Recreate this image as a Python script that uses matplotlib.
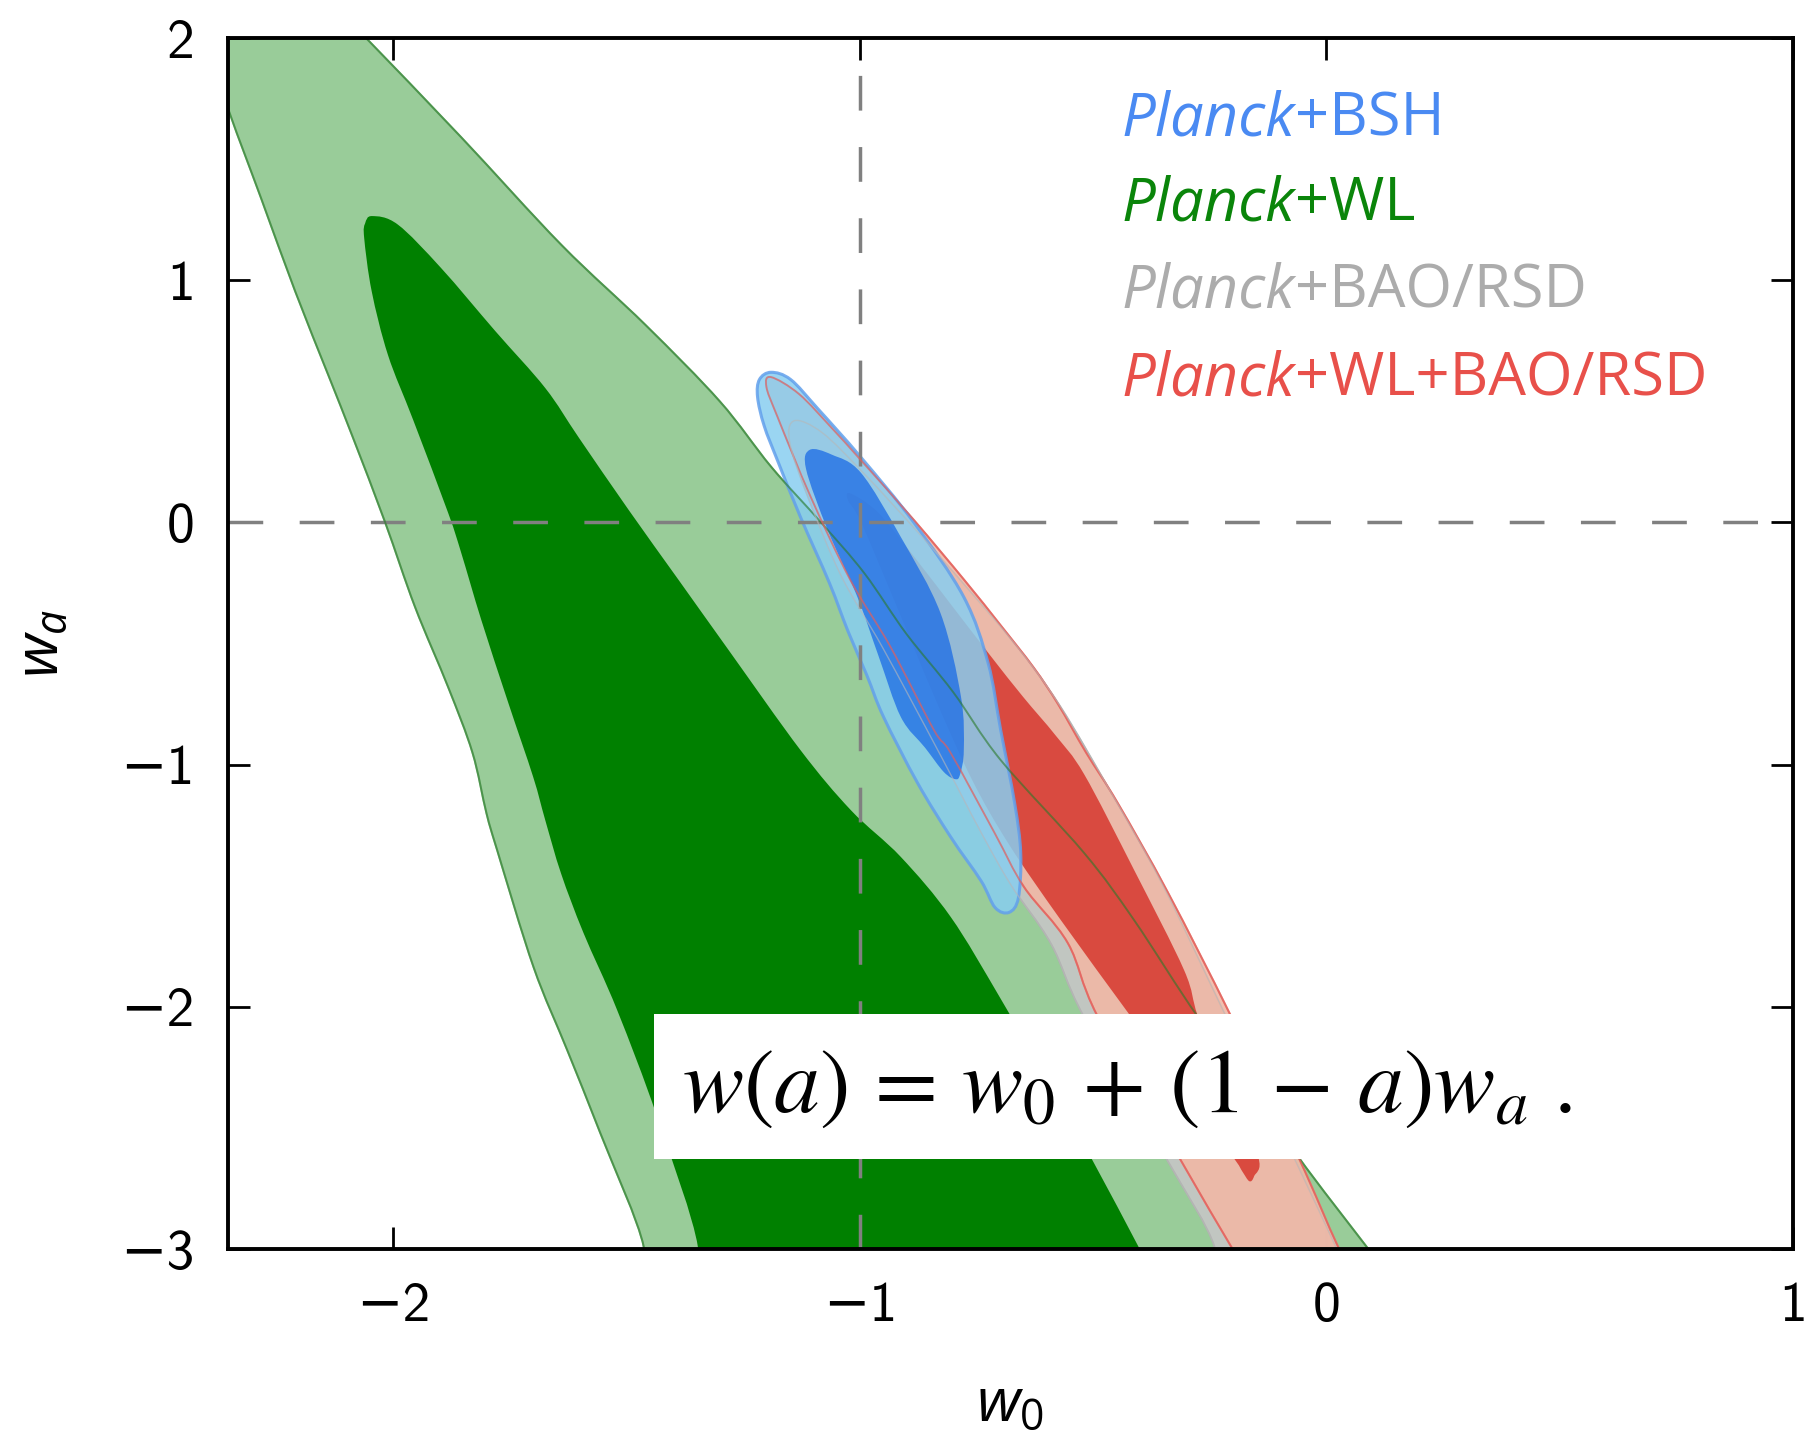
import matplotlib
matplotlib.use("Agg")
import matplotlib.pyplot as plt
from matplotlib.path import Path
from matplotlib.patches import PathPatch
import numpy as np

plt.rcParams['mathtext.fontset'] = 'custom'
plt.rcParams['mathtext.rm'] = 'Open Sans'
plt.rcParams['mathtext.it'] = 'Open Sans:italic'

# Planck+WL, 2 sigma (outer) and 1 sigma (inner) contours in (w0, wa)
wl_2s_w0 = [-2.16, -2.058, -1.854, -1.639, -1.459, -1.30, -1.19, -1.083, -0.99, -0.90,
            -0.80, -0.698, -0.519, -0.412, -0.275, -0.15, -0.06, 0.09, 0.15,
            -1.49, -1.463, -1.556, -1.627, -1.699, -1.777, -1.80, -1.83, -1.882, -1.953,
            -2.017, -2.086, -2.139, -2.210, -2.283, -2.354, -2.44]
wl_2s_wa = [2.2, 2.0, 1.59, 1.145, 0.815, 0.50, 0.23, 0.0, -0.21, -0.46,
            -0.70, -0.981, -1.365, -1.642, -2.042, -2.35, -2.62, -3.0, -3.15,
            -3.15, -2.99, -2.521, -2.178, -1.836, -1.353, -1.20, -0.95, -0.68, -0.349,
            0.0, 0.35, 0.609, 0.955, 1.339, 1.71, 2.2]

wl_1s_w0 = [-2.045, -1.99, -1.897, -1.781, -1.674, -1.602, -1.495, -1.388, -1.281, -1.127,
            -1.019, -0.912, -0.805, -0.70, -0.59, -0.505, -0.40, -0.36,
            -1.38, -1.347, -1.434, -1.520, -1.592, -1.64, -1.674, -1.70, -1.753, -1.811,
            -1.854, -1.882, -1.957, -2.011, -2.046, -2.062, -2.06]
wl_1s_wa = [1.265, 1.23, 1.05, 0.79, 0.555, 0.35, 0.051, -0.238, -0.527, -0.94,
            -1.188, -1.381, -1.629, -1.96, -2.33, -2.62, -3.0, -3.15,
            -3.15, -2.99, -2.455, -2.013, -1.695, -1.45, -1.229, -1.05, -0.746, -0.403,
            -0.126, 0.039, 0.423, 0.691, 0.955, 1.174, 1.235]

# Planck+BAO/RSD
bao_2s_w0 = [-1.14, -1.08, -0.99, -0.88, -0.77, -0.66, -0.57, -0.46, -0.35, -0.22,
             -0.07, 0.02, 0.06, -0.26, -0.24, -0.345, -0.52, -0.59, -0.675, -0.74,
             -0.83, -0.95, -1.04, -1.11, -1.15]
bao_2s_wa = [0.42, 0.37, 0.20, -0.03, -0.27, -0.52, -0.76, -1.12, -1.50, -2.02,
             -2.62, -2.99, -3.15, -3.15, -2.99, -2.62, -2.04, -1.74, -1.50, -1.28,
             -0.95, -0.52, -0.22, 0.10, 0.33]

# Planck+WL+BAO/RSD
comb_2s_w0 = [-1.19, -1.13, -1.06, -0.998, -0.884, -0.775, -0.70, -0.627, -0.575, -0.515,
              -0.447, -0.339, -0.204, -0.06, 0.025, 0.07, -0.15, -0.204, -0.316, -0.49,
              -0.554, -0.648, -0.711, -0.805, -0.841, -0.934, -1.02, -1.105, -1.176, -1.20]
comb_2s_wa = [0.60, 0.53, 0.39, 0.258, 0.01, -0.24, -0.42, -0.60, -0.75, -0.95,
              -1.159, -1.53, -2.04, -2.62, -2.99, -3.15, -3.15, -2.99, -2.62, -2.04,
              -1.737, -1.505, -1.282, -0.952, -0.857, -0.514, -0.238, 0.105, 0.435, 0.56]

comb_1s_w0 = [-1.02, -0.96, -0.88, -0.80, -0.72, -0.65, -0.58, -0.519, -0.412, -0.305,
              -0.275, -0.21, -0.146, -0.155, -0.165, -0.18, -0.20, -0.31, -0.419, -0.569,
              -0.68, -0.76, -0.84, -0.92, -0.997, -1.025]
comb_1s_wa = [0.12, 0.04, -0.15, -0.35, -0.55, -0.72, -0.88, -1.04, -1.435, -1.848,
              -2.04, -2.35, -2.62, -2.70, -2.72, -2.68, -2.62, -2.33, -2.04, -1.642,
              -1.33, -1.06, -0.72, -0.35, 0.0, 0.09]

# Planck+BSH
bsh_2s_w0 = [-1.19, -1.148, -1.09, -0.998, -0.884, -0.777, -0.725, -0.698, -0.668, -0.655,
             -0.660, -0.680, -0.71, -0.74, -0.805, -0.876, -0.949, -0.985, -1.025, -1.065,
             -1.127, -1.175, -1.205, -1.219, -1.215]
bsh_2s_wa = [0.62, 0.59, 0.47, 0.27, 0.0, -0.308, -0.58, -0.857, -1.159, -1.365,
             -1.55, -1.610, -1.59, -1.48, -1.299, -1.076, -0.803, -0.63, -0.45, -0.25,
             0.022, 0.25, 0.40, 0.518, 0.59]

bsh_1s_w0 = [-1.107, -1.06, -0.997, -0.912, -0.827, -0.783, -0.777, -0.785, -0.795, -0.82,
             -0.86, -0.912, -0.96, -1.005, -1.069, -1.115]
bsh_1s_wa = [0.30, 0.28, 0.204, -0.06, -0.374, -0.72, -0.94, -1.04, -1.06, -1.03,
             -0.93, -0.803, -0.55, -0.308, -0.03, 0.22]

xticks = [-2, -1, 0, 1]
yticks = [-3, -2, -1, 0, 1, 2]

legend_names = ['BSH', 'WL', 'BAO/RSD', 'WL+BAO/RSD']
legend_colors = ['#4a8af2', '#0a850a', '#acacac', '#e8504a']


def contour_path(xs, ys):
    # closed Catmull-Rom curve through the contour points, as cubic Beziers
    p = np.column_stack([xs, ys])
    n = len(p)
    verts = [p[0]]
    codes = [Path.MOVETO]
    for i in range(n):
        p0, p1, p2, p3 = p[i - 1], p[i], p[(i + 1) % n], p[(i + 2) % n]
        verts += [p1 + (p2 - p0) / 6.0, p2 - (p3 - p1) / 6.0, p2]
        codes += [Path.CURVE4] * 3
    verts.append(p[0])
    codes.append(Path.CLOSEPOLY)
    return Path(verts, codes)


def add_contour(ax, xs, ys, **kw):
    ax.add_patch(PathPatch(contour_path(xs, ys), **kw))


fig = plt.figure(figsize=(18.12, 14.47), dpi=100)
ax = fig.add_axes([0.1258, 0.1368, 0.8637, 0.8369])

# filled contours
add_contour(ax, wl_2s_w0, wl_2s_wa, fc='#99cc99', ec='#80bb80', lw=1.5, zorder=1)
add_contour(ax, wl_1s_w0, wl_1s_wa, fc='#008000', ec='none', zorder=2)
add_contour(ax, bao_2s_w0, bao_2s_wa, fc='#c4c6c4', ec='#b0b0b0', lw=1.2, alpha=0.95, zorder=3)
add_contour(ax, comb_2s_w0, comb_2s_wa, fc='#f0b8a6', ec='#ee7a6a', lw=1.5, alpha=0.9, zorder=4)
add_contour(ax, comb_1s_w0, comb_1s_wa, fc='#d9443a', ec='none', alpha=0.95, zorder=5)
add_contour(ax, bsh_2s_w0, bsh_2s_wa, fc='#88cef0', ec='#62a0ec', lw=2.2, alpha=0.85, zorder=6)
add_contour(ax, bsh_1s_w0, bsh_1s_wa, fc='#1a6ae6', ec='none', alpha=0.75, zorder=7)

# contour lines that show through the overlapping fills
add_contour(ax, wl_2s_w0, wl_2s_wa, fc='none', ec='#2a7a2a', lw=1.4, alpha=0.6, zorder=10)
add_contour(ax, comb_2s_w0, comb_2s_wa, fc='none', ec='#e06060', lw=1.3, alpha=0.7, zorder=10)
add_contour(ax, bao_2s_w0, bao_2s_wa, fc='none', ec='#b8b8b8', lw=1.0, alpha=0.6, zorder=10)

# LCDM reference lines
ax.axvline(-1, color='#808080', lw=2.5, dashes=(10, 10.5), zorder=9)
ax.axhline(0, color='#808080', lw=2.5, dashes=(10, 10.5), zorder=9)

ax.set_xlim(-2.354, 1.0)
ax.set_ylim(-3, 2)
tick_font = ['cmss10', 'DejaVu Sans']
ax.set_xticks(xticks)
ax.set_yticks(yticks)
ax.set_xticklabels([str(v).replace('-', '\u2212') for v in xticks], fontfamily=tick_font)
ax.set_yticklabels([str(v).replace('-', '\u2212') for v in yticks], fontfamily=tick_font)
ax.tick_params(direction='in', length=16, width=2, labelsize=40, pad=24,
               top=True, right=True)
for s in ax.spines.values():
    s.set_linewidth(2.8)
    s.set_zorder(30)

ax.set_xlabel(r'$w_0$', fontsize=44, labelpad=30)
ax.set_ylabel(r'$w_a$', fontsize=44, labelpad=36)

legend_y = [0.9199, 0.8497, 0.7779, 0.7052]
for name, col, y in zip(legend_names, legend_colors, legend_y):
    t = ax.text(0.571, y, 'Planck', color=col, fontsize=43, family='Open Sans',
                style='italic', transform=ax.transAxes, va='baseline', ha='left', zorder=25)
    ax.annotate('+' + name, xy=(1, 0), xycoords=t, va='bottom', ha='left', color=col,
                fontsize=43, family='Open Sans', zorder=25)

ax.text(0.290, 0.1346, r'$w(a)\,=\,w_0\,+\,(1\,-\,a)w_a\ .$', fontsize=66,
        math_fontfamily='stix', transform=ax.transAxes, va='center', ha='left', zorder=20,
        bbox=dict(boxstyle='square,pad=0.3', fc='white', ec='none'))

fig.savefig("out.png", dpi=100)
